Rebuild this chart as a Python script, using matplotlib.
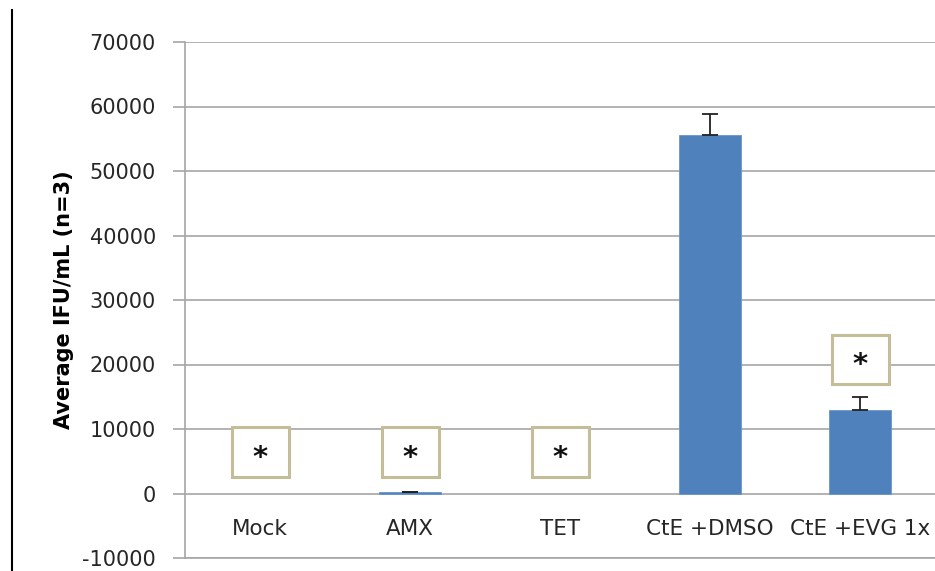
import matplotlib.pyplot as plt
from matplotlib.lines import Line2D
from matplotlib.patches import Rectangle

categories = ['Mock', 'AMX', 'TET', 'CtE +DMSO', 'CtE +EVG 1x']
means = [0, 200, 0, 55600, 13000]
errors = [0, 60, 0, 3300, 1900]
errbar_shown = [False, True, False, True, True]
# asterisk boxes: category index, centre height
star_pos = [(0, 6400), (1, 6400), (2, 6400), (4, 20800)]

plt.rcParams['font.family'] = ['DejaVu Sans']
plt.rcParams['axes.unicode_minus'] = False

fig = plt.figure(figsize=(9.35, 5.71), dpi=100)
ax = fig.add_axes([185 / 935, 13 / 571, 750 / 935, 516 / 571])

x = list(range(len(categories)))
for xi, m in zip(x, means):
    if m > 0:
        ax.bar(xi, m, width=0.41, color='#4f81bd', edgecolor='#6a96cc',
               linewidth=0.6, zorder=3)
for xi, m, e, show in zip(x, means, errors, errbar_shown):
    if show:
        ax.errorbar(xi, m, yerr=[[0], [e]], fmt='none', ecolor='#222222',
                    elinewidth=1.3, capsize=6, capthick=1.3, zorder=4)

ax.set_xlim(-0.5, len(categories) - 0.5)
ax.set_ylim(-10000, 70000)
ax.set_yticks(range(-10000, 70001, 10000))
ax.yaxis.grid(True, color='#a6a6a6', linewidth=1.2, zorder=0)
ax.axhline(-10000, color='#a6a6a6', linewidth=1.2, clip_on=False, zorder=0)
ax.set_axisbelow(True)
ax.set_xticks([])

for s in ['top', 'right', 'bottom']:
    ax.spines[s].set_visible(False)
ax.spines['left'].set_color('#a6a6a6')
ax.spines['left'].set_linewidth(1.2)
ax.tick_params(axis='y', direction='out', length=9, width=1.2, color='#a6a6a6',
               labelsize=15, labelcolor='#262626', pad=12)

for xi, lab in zip(x, categories):
    ax.text(xi, -5500, lab, ha='center', va='center', fontsize=15.5, color='#262626')

bw, bh = 0.38, 7700
for ci, yc in star_pos:
    ax.add_patch(Rectangle((ci - bw / 2, yc - bh / 2), bw, bh, facecolor='white',
                           edgecolor='#c4bd97', linewidth=2.2, zorder=5))
    ax.text(ci, yc - 900, '*', ha='center', va='center', fontsize=21,
            fontweight='bold', color='#111111', zorder=6)

ax.set_ylabel('Average IFU/mL (n=3)', fontsize=15, fontweight='bold', labelpad=6)

fig.add_artist(Line2D([12 / 935, 12 / 935], [0, 1 - 10 / 571], color='black', linewidth=1.5))

fig.savefig('out.png', dpi=100)
